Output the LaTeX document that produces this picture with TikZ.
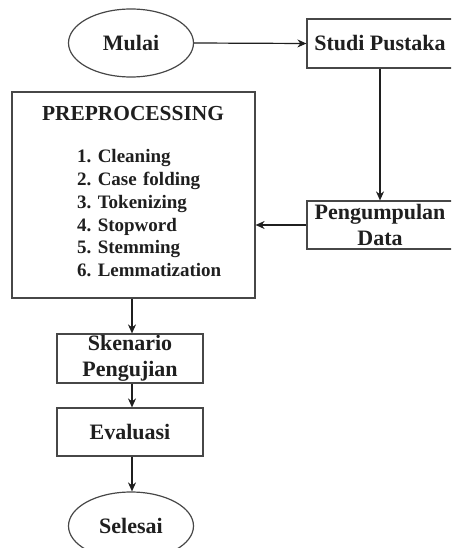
\documentclass[tikz,border=0pt]{standalone}
\usepackage{fontspec}
\setmainfont{Liberation Serif}
\usetikzlibrary{shapes.geometric,arrows.meta}
\frenchspacing
\begin{document}
\begin{tikzpicture}[x=1pt,y=-1pt,
  lbl/.style={font=\fontsize{22}{25.5}\selectfont\bfseries, text=black!88},
  stepbox/.style={draw=black!72, line width=1.2pt, inner sep=0pt, lbl, align=center},
  term/.style={stepbox, ellipse, minimum width=125pt, minimum height=68pt},
  conn/.style={draw=black!88, line width=1.2pt, -{Stealth[length=9pt,width=8pt]}}]
\useasboundingbox (0,0) rectangle (451,548);
\clip (0,0) rectangle (451,548);
\fill[white] (0,0) rectangle (451,548);
\coordinate (axis) at (132,0);
% nodes
\node[term] (mulai) at (131,43) {Mulai};
\node[stepbox, minimum width=146pt, minimum height=49pt] (studi) at (380,43.5) {Studi Pustaka};
\node[stepbox, minimum width=146pt, minimum height=48pt] (data) at (380,225) {Pengumpulan\\Data};
\node[stepbox, minimum width=243pt, minimum height=206pt] (prep) at (133.5,195) {};
\node[inner sep=0pt, anchor=base, font=\fontsize{21.4}{25}\selectfont\bfseries, text=black!88] (preptitle) at (133,120.5) {PREPROCESSING};
\node[anchor=base west, inner sep=0pt, text width=170pt, align=left, font=\fontsize{19}{22.8}\selectfont\bfseries\frenchspacing, text=black!88] (preplist) at (77,162.7)
  {1. Cleaning\\2. Case folding\\3. Tokenizing\\4. Stopword\\5. Stemming\\6. Lemmatization};
\node[stepbox, minimum width=146pt, minimum height=49pt] (skenario) at (130,358.5) {Skenario\\Pengujian};
\node[stepbox, minimum width=146pt, minimum height=48pt] (eval) at (130,432) {Evaluasi};
\node[term] (selesai) at (131,526) {Selesai};
% connectors
\draw[conn] (mulai.east) -- (studi.west);
\draw[conn] (studi.south) -- (data.north);
\draw[conn] (data.west) -- (prep.east |- data.west);
\draw[conn] (prep.south -| axis) -- (skenario.north -| axis);
\draw[conn] (skenario.south -| axis) -- (eval.north -| axis);
\draw[conn] (eval.south -| axis) -- (selesai.north -| axis);
\end{tikzpicture}
\end{document}
